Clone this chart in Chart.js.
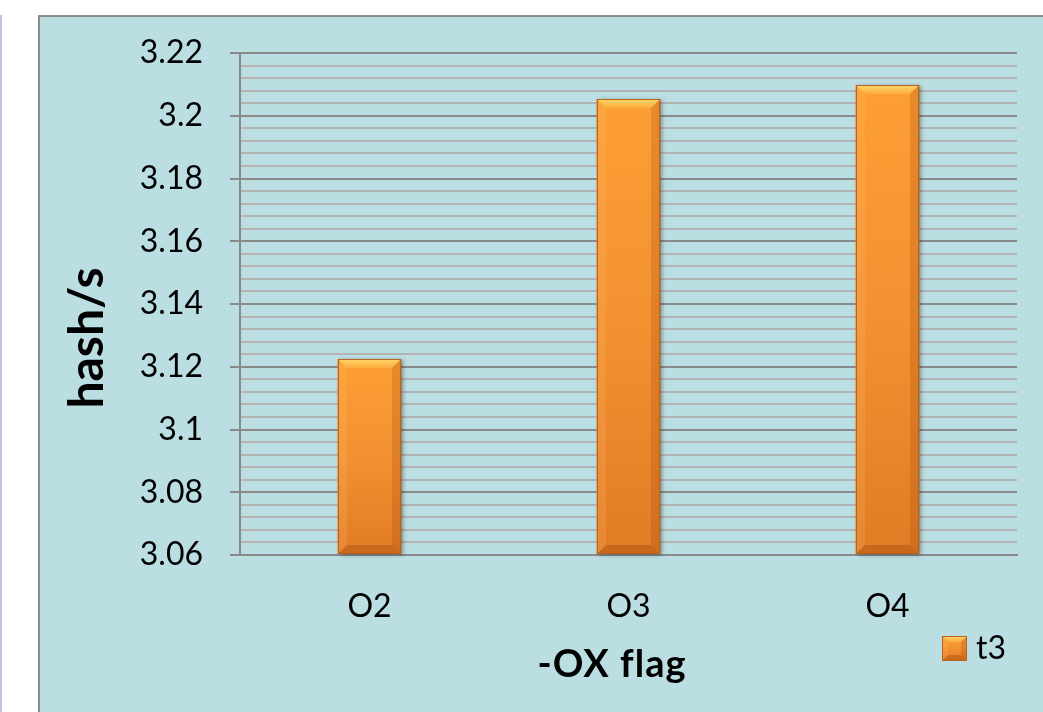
<!DOCTYPE html>
<html>
<head>
<meta charset="utf-8">
<title>hash/s by -OX flag</title>
<script src="https://cdn.jsdelivr.net/npm/chart.js@4.4.0/dist/chart.umd.min.js"></script>
<style>
  html, body { margin: 0; padding: 0; background: #ffffff; }
  #wrap { width: 1043px; height: 712px; position: relative; }
  canvas { display: block; }
</style>
</head>
<body>
<div id="wrap"><canvas id="chart" width="1043" height="712"></canvas></div>
<script>
// ---- data ----
const categories = ['O2', 'O3', 'O4'];
const seriesName = 't3';
const hashRates = [3.1225, 3.2053, 3.2098];

// ---- axis settings ----
const yMin = 3.06;
const yMax = 3.22;
const majorStep = 0.02;
const minorStep = 0.004;
const xAxisTitle = '-OX flag';
const yAxisTitle = 'hash/s';

const FONT = 'Lato';
Chart.defaults.font.family = FONT;
Chart.defaults.color = '#000000';

function isMajor(v) {
  const q = v / majorStep;
  return Math.abs(q - Math.round(q)) < 1e-6;
}

function poly(ctx, pts, fill) {
  ctx.beginPath();
  ctx.moveTo(pts[0][0], pts[0][1]);
  for (let i = 1; i < pts.length; i++) ctx.lineTo(pts[i][0], pts[i][1]);
  ctx.closePath();
  ctx.fillStyle = fill;
  ctx.fill();
}

// Orange bevelled block used for bars and the legend swatch
function drawBevelBlock(ctx, l, t, r, b, bev, shadow) {
  const w = r - l, h = b - t;
  ctx.save();
  if (shadow) {
    ctx.shadowColor = 'rgba(0,0,0,0.35)';
    ctx.shadowBlur = 4;
    ctx.shadowOffsetX = 2;
    ctx.shadowOffsetY = 1;
  }
  ctx.fillStyle = '#e8892c';
  ctx.fillRect(l, t, w, h);
  ctx.restore();

  ctx.save();
  const body = ctx.createLinearGradient(0, t, 0, b);
  body.addColorStop(0, '#fd9f35');
  body.addColorStop(0.5, '#f39131');
  body.addColorStop(1, '#e17b25');
  ctx.fillStyle = body;
  ctx.fillRect(l, t, w, h);

  const top = ctx.createLinearGradient(0, t, 0, t + bev);
  top.addColorStop(0, '#ffd86a');
  top.addColorStop(1, '#fbac3e');
  poly(ctx, [[l, t], [r, t], [r - bev, t + bev], [l + bev, t + bev]], top);
  poly(ctx, [[l, t], [l + bev, t + bev], [l + bev, b - bev], [l, b]], 'rgba(255,190,110,0.20)');
  poly(ctx, [[r, t], [r, b], [r - bev, b - bev], [r - bev, t + bev]], 'rgba(150,70,10,0.22)');
  poly(ctx, [[l, b], [l + bev, b - bev], [r - bev, b - bev], [r, b]], 'rgba(140,60,10,0.30)');

  ctx.strokeStyle = '#b9631d';
  ctx.lineWidth = 1;
  ctx.strokeRect(l + 0.5, t + 0.5, w - 1, h - 1);
  ctx.restore();
}

// Page frame and light-blue chart panel
const panelPlugin = {
  id: 'panel',
  beforeDraw(chart) {
    const ctx = chart.ctx;
    ctx.save();
    ctx.fillStyle = '#ffffff';
    ctx.fillRect(0, 0, chart.width, chart.height);
    ctx.fillStyle = '#c2c2dc';
    ctx.fillRect(0, 15, 2, chart.height - 15);
    ctx.fillStyle = '#bbdee2';
    ctx.fillRect(39, 16, chart.width - 39, chart.height - 16);
    ctx.strokeStyle = '#8c8c8c';
    ctx.lineWidth = 2;
    ctx.beginPath();
    ctx.moveTo(39, chart.height);
    ctx.lineTo(39, 16);
    ctx.lineTo(chart.width, 16);
    ctx.stroke();
    ctx.restore();
  }
};

// Bevelled bar faces drawn over the library's bar rectangles
const bevelPlugin = {
  id: 'bevel',
  afterDatasetsDraw(chart) {
    const ctx = chart.ctx;
    const area = chart.chartArea;
    chart.getDatasetMeta(0).data.forEach(bar => {
      const p = bar.getProps(['x', 'y', 'base', 'width'], true);
      const l = Math.round(p.x - p.width / 2);
      const r = Math.round(p.x + p.width / 2);
      const bottom = Math.round(Math.min(p.base, area.bottom));
      drawBevelBlock(ctx, l, Math.round(p.y), r, bottom, 9, true);
    });
  }
};

// Axis titles and the legend entry
const labelsPlugin = {
  id: 'labels',
  afterDraw(chart) {
    const ctx = chart.ctx;
    ctx.save();
    ctx.fillStyle = '#000000';

    ctx.font = 'bold 38px ' + FONT;
    ctx.textAlign = 'center';
    ctx.textBaseline = 'alphabetic';
    if ('letterSpacing' in ctx) ctx.letterSpacing = '1px';
    ctx.fillText(xAxisTitle, 612, 677);
    if ('letterSpacing' in ctx) ctx.letterSpacing = '0px';

    ctx.save();
    ctx.translate(103, 338);
    ctx.rotate(-Math.PI / 2);
    ctx.font = 'bold 48px ' + FONT;
    ctx.fillText(yAxisTitle, 0, 0);
    ctx.restore();

    drawBevelBlock(ctx, 942, 636, 967, 661, 6, false);
    ctx.font = '32px ' + FONT;
    ctx.textAlign = 'left';
    ctx.textBaseline = 'middle';
    ctx.fillText(chart.data.datasets[0].label, 976, 649);
    ctx.restore();
  }
};

new Chart(document.getElementById('chart'), {
  type: 'bar',
  data: {
    labels: categories,
    datasets: [{
      label: seriesName,
      data: hashRates,
      base: yMin,
      backgroundColor: '#f3922f',
      borderWidth: 0,
      categoryPercentage: 1.0,
      barPercentage: 0.247
    }]
  },
  options: {
    responsive: false,
    devicePixelRatio: 1,
    animation: false,
    layout: { padding: { left: 40, top: 53, right: 26, bottom: 0 } },
    plugins: {
      legend: { display: false },
      tooltip: { enabled: false }
    },
    scales: {
      x: {
        grid: { display: false },
        border: { display: true, color: '#8a8a8a', width: 2 },
        ticks: { font: { size: 32 }, color: '#000000', padding: 24 },
        afterFit(scale) { scale.height = 157; }
      },
      y: {
        min: yMin,
        max: yMax,
        grid: {
          color: ctx => isMajor(ctx.tick.value) ? '#8a8a8a' : '#b3b3b3',
          tickColor: ctx => isMajor(ctx.tick.value) ? '#8a8a8a' : 'rgba(0,0,0,0)',
          lineWidth: 2,
          tickLength: 10,
          drawTicks: true
        },
        border: { display: true, color: '#8a8a8a', width: 2 },
        ticks: {
          stepSize: minorStep,
          autoSkip: false,
          font: { size: 32 },
          color: '#000000',
          padding: 27,
          callback: v => isMajor(v) ? String(Number(v.toFixed(2))) : ''
        },
        afterFit(scale) { scale.width = 200; }
      }
    }
  },
  plugins: [panelPlugin, bevelPlugin, labelsPlugin]
});
</script>
</body>
</html>
